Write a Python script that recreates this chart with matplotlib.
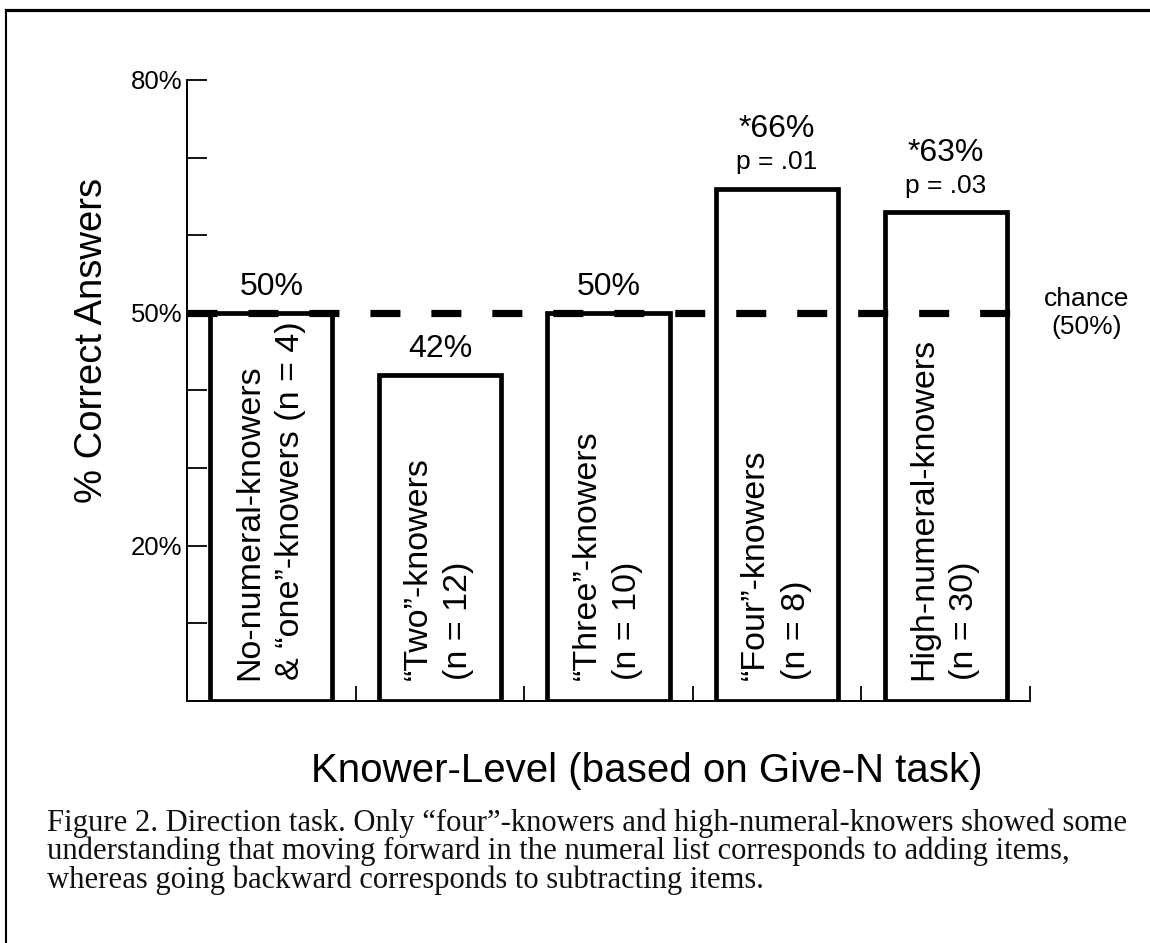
import numpy as np
import matplotlib
matplotlib.use("Agg")
import matplotlib.pyplot as plt
from matplotlib.lines import Line2D

# data
groups = ['No-numeral-knowers\n& \u201cone\u201d-knowers (n = 4)',
          '\u201cTwo\u201d-knowers\n(n = 12)',
          '\u201cThree\u201d-knowers\n(n = 10)',
          '\u201cFour\u201d-knowers\n(n = 8)',
          'High-numeral-knowers\n(n = 30)']
pct_correct = [50, 42, 50, 66, 63]
value_labels = ['50%', '42%', '50%', '*66%', '*63%']
p_labels = ['', '', '', 'p = .01', 'p = .03']
chance = 50
ytick_vals = [10, 20, 30, 40, 50, 60, 70, 80]
ytick_text = ['', '20%', '', '', '50%', '', '', '80%']

caption = ("Figure 2. Direction task. Only \u201cfour\u201d-knowers and high-numeral-knowers showed some\n"
           "understanding that moving forward in the numeral list corresponds to adding items,\n"
           "whereas going backward corresponds to subtracting items.")

plt.rcParams['font.family'] = 'Liberation Sans'
plt.rcParams['lines.scale_dashes'] = False

W, H = 1150, 943
fig = plt.figure(figsize=(W / 100, H / 100), dpi=100)
# axes box in pixels: x 187..1030, y 80..701
ax = fig.add_axes([187 / W, 1 - 701 / H, 843 / W, 621 / H])

x = np.arange(len(pct_correct))
ax.bar(x, pct_correct, width=0.725, color='white', edgecolor='black', linewidth=3.4, zorder=2)

# chance line
ax.axhline(chance, xmin=0, xmax=0.98, color='black', linewidth=5.2,
           dashes=(21.6, 22.3), dash_capstyle='butt', zorder=3)
ax.text(1.0676, chance, 'chance\n(50%)', transform=ax.get_yaxis_transform(),
        ha='center', va='center', fontsize=19, linespacing=1.2)

# labels over bars
for xi, v, vl, pl in zip(x, pct_correct, value_labels, p_labels):
    if pl:
        ax.annotate(pl, (xi, v), xytext=(0, 14), textcoords='offset points',
                    ha='center', va='baseline', fontsize=19)
        ax.annotate(vl, (xi, v), xytext=(0, 37), textcoords='offset points',
                    ha='center', va='baseline', fontsize=23)
    else:
        ax.annotate(vl, (xi, v), xytext=(0, 13), textcoords='offset points',
                    ha='center', va='baseline', fontsize=23)

# group names inside bars
for xi, g in zip(x, groups):
    ax.annotate(g, (xi, 0), xytext=(-1, 15), textcoords='offset points',
                rotation=90, ha='center', va='bottom', multialignment='left',
                fontsize=24.5, linespacing=1.4)

ax.set_xlim(-0.5, len(pct_correct) - 0.5)
ax.set_ylim(0, 80)

for s in ['top', 'right']:
    ax.spines[s].set_visible(False)
for s in ['left', 'bottom']:
    ax.spines[s].set_linewidth(1.4)

ax.set_yticks(ytick_vals)
ax.set_yticklabels(ytick_text)
ax.tick_params(axis='y', direction='in', length=14.5, width=1.3, labelsize=18.5, pad=3.5)
ax.set_xticks(x + 0.5)
ax.set_xticklabels([])
ax.tick_params(axis='x', direction='in', length=11, width=1.3)

ax.set_ylabel('% Correct Answers', fontsize=27.5, va='center')
ax.yaxis.set_label_coords(-0.1127, 0.58)
ax.set_xlabel('Knower-Level (based on Give-N task)', fontsize=29, va='baseline')
ax.xaxis.set_label_coords(0.5457, -0.130)

# caption
fig.text(47 / W, 1 - 808 / H, caption, ha='left', va='top', fontsize=22.1,
         family='Liberation Serif', color='#111111', linespacing=0.96)

# page border (top and left)
fig.add_artist(Line2D([6 / W, 6 / W], [0, 1 - 9.5 / H], color='black', linewidth=1.5))
fig.add_artist(Line2D([6 / W, 1], [1 - 9.5 / H, 1 - 9.5 / H], color='black', linewidth=2.3))

fig.savefig('out.png', dpi=100, facecolor='white')
